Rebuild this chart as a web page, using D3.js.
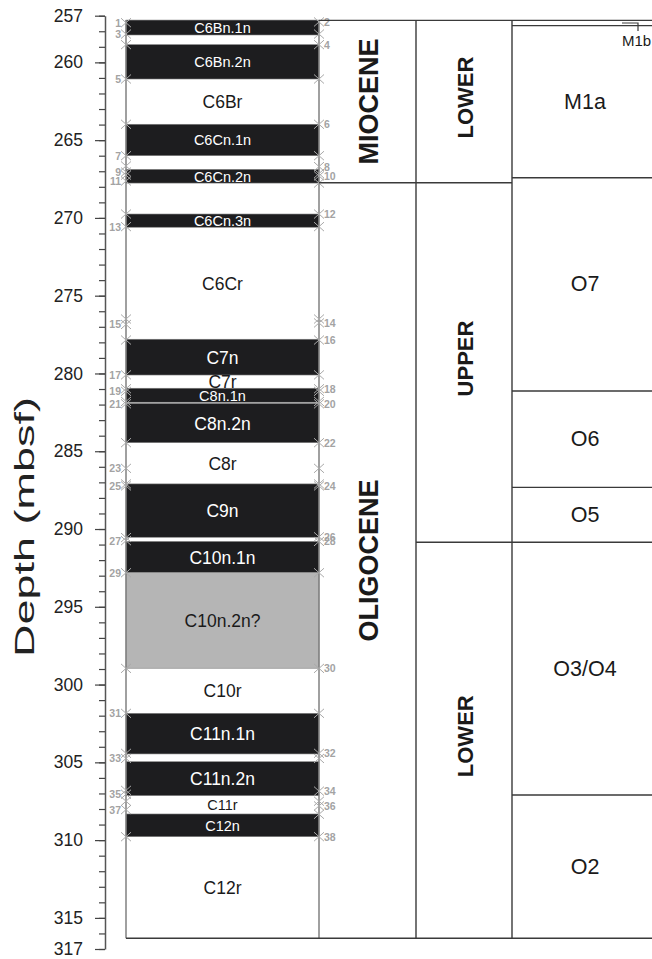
<!DOCTYPE html>
<html>
<head>
<meta charset="utf-8">
<script src="https://cdn.jsdelivr.net/npm/d3@7"></script>
<style>
  body { margin: 0; background: #fff; }
  svg { display: block; font-family: "Liberation Sans", Arial, Helvetica, sans-serif; }
</style>
</head>
<body>
<svg id="chart" width="652" height="959"></svg>
<script>
// ---- Magnetostratigraphic column (depth in mbsf) ----
const chronNames = ["C6Bn.1n", "", "C6Bn.2n", "C6Br", "C6Cn.1n", "", "C6Cn.2n", "", "C6Cn.3n",
  "C6Cr", "C7n", "C7r", "C8n.1n", "", "C8n.2n", "C8r", "C9n", "", "C10n.1n", "C10n.2n?",
  "C10r", "C11n.1n", "", "C11n.2n", "C11r", "C12n", "C12r"];
const chronTops = [257.28, 258.24, 258.86, 261.07, 263.98, 266.0, 266.88, 267.76, 269.75,
  270.6, 277.8, 280.1, 280.95, 281.85, 281.93, 284.45, 287.1, 290.53, 290.8, 292.8,
  298.95, 301.85, 304.46, 304.96, 307.14, 308.32, 309.78];
const chronBases = [258.24, 258.86, 261.07, 263.98, 266.0, 266.88, 267.76, 269.75, 270.6,
  277.8, 280.1, 280.95, 281.85, 281.93, 284.45, 287.1, 290.53, 290.8, 292.8, 298.95,
  301.85, 304.46, 304.96, 307.14, 308.32, 309.78, 316.31];
// n = normal, r = reversed, u = uncertain
const chronPolarity = ["n", "r", "n", "r", "n", "r", "n", "r", "n", "r", "n", "r", "n", "r",
  "n", "r", "n", "r", "n", "u", "r", "n", "r", "n", "r", "n", "r"];

// ---- Reversal tie points (left: odd numbers, right: even numbers) ----
const leftTieDepths = [257.45, 258.18, 258.86, 261.07, 263.98, 266.0, 266.66, 267.05, 267.25,
  267.63, 269.75, 270.56, 276.5, 276.85, 277.85, 280.09, 280.98, 281.15, 281.8, 281.95,
  284.45, 286.1, 287.1, 287.23, 290.55, 290.75, 292.81, 298.96, 301.85, 304.42, 304.75,
  306.8, 307.05, 307.5, 308.04, 309.78];
const leftTieLabels = ["1", "3", "", "5", "", "7", "", "9", "", "11", "", "13", "", "15", "",
  "17", "", "19", "", "21", "", "23", "", "25", "", "27", "29", "", "31", "", "33", "", "35",
  "", "37", ""];
const rightTieDepths = [257.4, 258.18, 258.86, 261.07, 263.98, 266.0, 266.7, 267.15, 267.3,
  267.76, 269.75, 270.56, 276.5, 276.75, 277.85, 280.09, 280.98, 281.15, 281.8, 281.95,
  284.45, 286.1, 287.1, 287.23, 290.5, 290.8, 292.81, 298.96, 301.85, 304.42, 304.75,
  306.85, 307.5, 307.8, 308.34, 309.78];
const rightTieLabels = ["2", "", "4", "", "6", "", "8", "", "10", "", "12", "", "", "14", "16",
  "", "18", "", "", "20", "22", "", "", "24", "26", "28", "", "30", "", "32", "", "34", "",
  "36", "", "38"];

// ---- Chronostratigraphy ----
const epochNames = ["MIOCENE", "OLIGOCENE"];
const epochBounds = [257.3, 267.74, 316.31];
const seriesNames = ["LOWER", "UPPER", "LOWER"];
const seriesBounds = [257.3, 267.74, 290.85, 316.31];
const zoneNames = ["M1b", "M1a", "O7", "O6", "O5", "O3/O4", "O2"];
const zoneBounds = [257.3, 257.64, 267.42, 281.13, 287.32, 290.85, 307.1, 316.31];

// ---- Depth axis ----
const depthDomain = [257, 317];
const majorTicks = [257, 260, 265, 270, 275, 280, 285, 290, 295, 300, 305, 310, 315, 317];
const minorTicks = d3.range(257, 318, 1);
const depthTitle = "Depth (mbsf)";

// ---------------------------------------------------------------
const svg = d3.select("#chart");
const y = d3.scaleLinear().domain(depthDomain).range([15.7, 949]);

const axisX = 105;
const colX = { chron0: 126, chron1: 319, epoch1: 416, series1: 512, zone1: 658 };
const frame = "#3a3a3a";
const chronEdge = "#808080";

// minor ticks
svg.append("g")
  .attr("transform", `translate(${axisX},0)`)
  .call(d3.axisLeft(y).tickValues(minorTicks).tickSize(6).tickSizeOuter(0).tickFormat(""))
  .call(g => g.selectAll("line").attr("stroke", "#444").attr("stroke-width", 1.2))
  .call(g => g.select(".domain").attr("stroke", "#555").attr("stroke-width", 1.5));

// major ticks + labels
svg.append("g")
  .attr("transform", `translate(${axisX},0)`)
  .call(d3.axisLeft(y).tickValues(majorTicks).tickSize(10).tickSizeOuter(0).tickPadding(12)
    .tickFormat(d3.format("d")))
  .call(g => g.select(".domain").remove())
  .call(g => g.selectAll("line").attr("stroke", "#444").attr("stroke-width", 1.2))
  .call(g => g.selectAll("text").attr("fill", "#222").attr("font-size", 17.5)
    .attr("font-family", "'Liberation Sans', Arial, sans-serif"));

// axis title (set wide, stretched along its length)
svg.append("text")
  .attr("transform", `translate(24,527) rotate(-90)`)
  .attr("text-anchor", "middle")
  .attr("dominant-baseline", "central")
  .attr("font-size", 28)
  .attr("textLength", 260)
  .attr("lengthAdjust", "spacingAndGlyphs")
  .attr("fill", "#222")
  .text(depthTitle);

// chron bands
const chrons = chronNames.map((name, i) => ({
  name, top: chronTops[i], base: chronBases[i], pol: chronPolarity[i]
}));
const fillFor = p => p === "n" ? "#1d1d1f" : p === "u" ? "#b5b5b5" : "#ffffff";

svg.append("g").selectAll("rect")
  .data(chrons.filter(c => c.pol !== "r"))
  .join("rect")
  .attr("x", colX.chron0)
  .attr("width", colX.chron1 - colX.chron0)
  .attr("y", d => y(d.top))
  .attr("height", d => y(d.base) - y(d.top))
  .attr("fill", d => fillFor(d.pol))
  .attr("stroke", chronEdge)
  .attr("stroke-width", 0.6);

// compact labels for the narrow or densely spaced intervals
const compact = new Set(["C6Bn.1n", "C6Bn.2n", "C6Cn.1n", "C6Cn.2n", "C6Cn.3n", "C8n.1n", "C11r", "C12n"]);
svg.append("g").selectAll("text")
  .data(chrons.filter(c => c.name))
  .join("text")
  .attr("x", (colX.chron0 + colX.chron1) / 2)
  .attr("y", d => (y(d.top) + y(d.base)) / 2 + 0.5)
  .attr("text-anchor", "middle")
  .attr("dominant-baseline", "central")
  .attr("font-size", d => compact.has(d.name) ? 14.5 : 17.5)
  .attr("fill", d => d.pol === "n" ? "#ffffff" : "#1a1a1a")
  .text(d => d.name);

// column side borders
const colTopY = y(epochBounds[0]);
const colBotY = y(epochBounds[epochBounds.length - 1]);
svg.append("g").selectAll("line")
  .data([colX.chron0, colX.chron1])
  .join("line")
  .attr("x1", d => d).attr("x2", d => d)
  .attr("y1", y(chronTops[0])).attr("y2", colBotY)
  .attr("stroke", chronEdge).attr("stroke-width", 1.5);

// tie point crosses
function drawTies(depths, labels, x, side) {
  const g = svg.append("g");
  const s = 5, h = 4.5;
  depths.forEach((d, i) => {
    const yy = y(d);
    g.append("path")
      .attr("d", `M${x - s},${yy - h}L${x + s},${yy + h}M${x - s},${yy + h}L${x + s},${yy - h}`)
      .attr("stroke", "#a9a9a9").attr("stroke-width", 1).attr("fill", "none");
    if (labels[i]) {
      g.append("text")
        .attr("x", side === "L" ? x - 5 : x + 5)
        .attr("y", yy)
        .attr("text-anchor", side === "L" ? "end" : "start")
        .attr("dominant-baseline", "central")
        .attr("font-size", 10.5)
        .attr("font-weight", "bold")
        .attr("fill", "#a3a3a3")
        .text(labels[i]);
    }
  });
}
drawTies(leftTieDepths, leftTieLabels, colX.chron0, "L");
drawTies(rightTieDepths, rightTieLabels, colX.chron1, "R");

// epoch / series / zone frames
const fr = svg.append("g").attr("stroke", frame).attr("stroke-width", 1.4);
fr.append("line").attr("x1", colX.chron1).attr("x2", colX.zone1).attr("y1", colTopY).attr("y2", colTopY);
fr.append("line").attr("x1", colX.chron0).attr("x2", colX.zone1).attr("y1", colBotY).attr("y2", colBotY);
[colX.epoch1, colX.series1].forEach(x =>
  fr.append("line").attr("x1", x).attr("x2", x).attr("y1", colTopY).attr("y2", colBotY));

// epoch boundaries
fr.selectAll(null).data(epochBounds.slice(1, -1)).join("line")
  .attr("x1", colX.chron1).attr("x2", colX.epoch1).attr("y1", d => y(d)).attr("y2", d => y(d));
// series boundaries
fr.selectAll(null).data(seriesBounds.slice(1, -1)).join("line")
  .attr("x1", colX.epoch1).attr("x2", colX.series1).attr("y1", d => y(d)).attr("y2", d => y(d));
// zone boundaries
fr.selectAll(null).data(zoneBounds.slice(1, -1)).join("line")
  .attr("x1", colX.series1).attr("x2", colX.zone1).attr("y1", d => y(d)).attr("y2", d => y(d));

// epoch labels
epochNames.forEach((name, i) => {
  const cy = (y(epochBounds[i]) + y(epochBounds[i + 1])) / 2;
  svg.append("text")
    .attr("transform", `translate(${(colX.chron1 + colX.epoch1) / 2 + 1},${cy}) rotate(-90)`)
    .attr("text-anchor", "middle").attr("dominant-baseline", "central")
    .attr("font-size", 27).attr("font-weight", "bold").attr("fill", "#1a1a1a")
    .text(name);
});
// series labels
seriesNames.forEach((name, i) => {
  const cy = (y(seriesBounds[i]) + y(seriesBounds[i + 1])) / 2 - 4;
  svg.append("text")
    .attr("transform", `translate(${(colX.epoch1 + colX.series1) / 2 + 1},${cy}) rotate(-90)`)
    .attr("text-anchor", "middle").attr("dominant-baseline", "central")
    .attr("font-size", 22).attr("font-weight", "bold").attr("fill", "#1a1a1a")
    .text(name);
});
// zone labels (the thin uppermost zone is tagged with a leader)
zoneNames.forEach((name, i) => {
  if (i === 0) return;
  const cy = (y(zoneBounds[i]) + y(zoneBounds[i + 1])) / 2;
  svg.append("text")
    .attr("x", (colX.series1 + colX.zone1) / 2).attr("y", cy)
    .attr("text-anchor", "middle").attr("dominant-baseline", "central")
    .attr("font-size", 21.5).attr("fill", "#1a1a1a")
    .text(name);
});
const m1bY = (y(zoneBounds[0]) + y(zoneBounds[1])) / 2;
svg.append("path")
  .attr("d", `M622,${m1bY}H638V${m1bY + 8}`)
  .attr("fill", "none").attr("stroke", frame).attr("stroke-width", 1.2);
svg.append("text")
  .attr("x", 622).attr("y", m1bY + 22.5)
  .attr("font-size", 15).attr("fill", "#1a1a1a")
  .text(zoneNames[0]);
</script>
</body>
</html>
